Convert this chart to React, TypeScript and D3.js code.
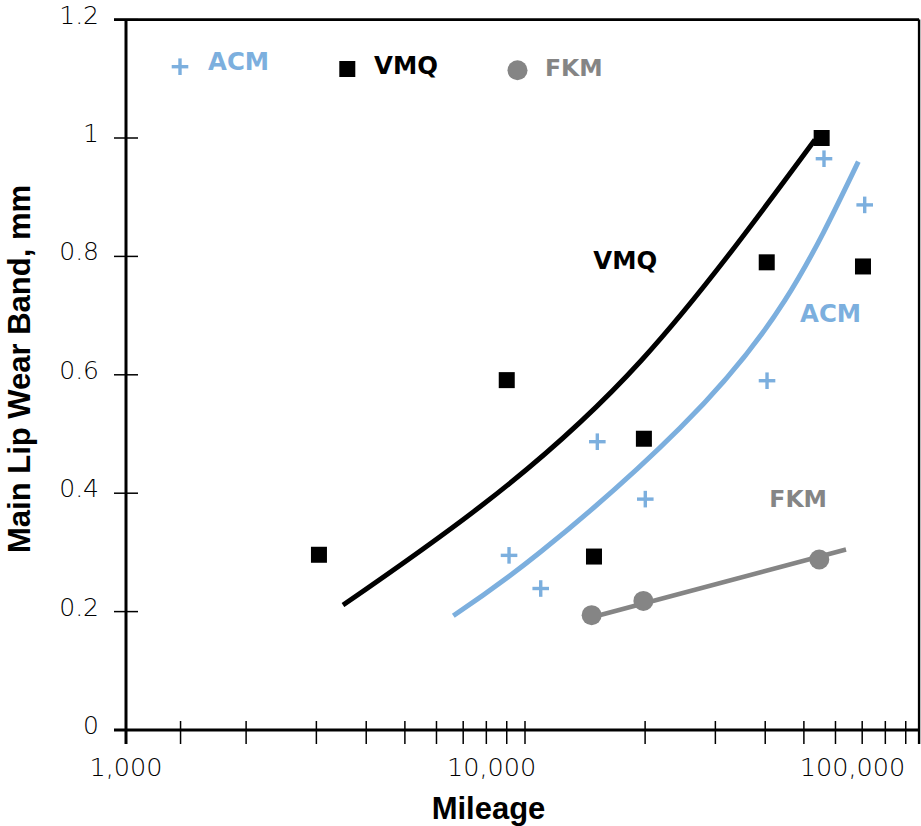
import React from "react";
import * as d3 from "d3";

// ---- data ----
const acmMileage = [9120, 10950, 15180, 20020, 40420, 56150, 71020];
const acmWear = [0.295, 0.239, 0.487, 0.39, 0.59, 0.965, 0.887];

const vmqMileage = [3045, 9000, 14890, 19860, 40350, 55400, 70320];
const vmqWear = [0.296, 0.591, 0.293, 0.492, 0.79, 1.0, 0.783];

const fkmMileage = [14690, 19800, 54640];
const fkmWear = [0.194, 0.218, 0.288];

// fitted trend curves
const vmqFitMileage = [3499, 7714, 19610, 53300];
const vmqFitWear = [0.211, 0.377, 0.625, 0.997];

const acmFitMileage = [6612, 10950, 24460, 44830, 68450];
const acmFitWear = [0.193, 0.301, 0.51, 0.726, 0.96];

const fkmFitMileage = [14630, 63760];
const fkmFitWear = [0.19, 0.305];

// axes
const xMin = 1000;
const xMax = 97200;
const xTicks = [
  1000, 1370, 2000, 3000, 4000, 5000, 6000, 7000, 8000, 9000, 10000,
  20000, 30000, 40000, 50000, 60000, 70000, 80000, 90000, 97200,
];
const xLabelText = ["1,000", "10,000", "100,000"];
const xLabelAt = [1000, 8250, 66200];

const yTicks = [0, 0.2, 0.4, 0.6, 0.8, 1.0, 1.2];
const yTickLabels = ["0", "0.2", "0.4", "0.6", "0.8", "1", "1.2"];

const seriesNames = ["ACM", "VMQ", "FKM"];
// in-plot annotation anchor (data units: mileage, wear)
const annoMileage = [48900, 14830, 40960];
const annoWear = [0.689, 0.778, 0.3775];

const BLUE = "#7cafde";
const GRAY = "#858585";
const BLACK = "#000000";

export default function App() {
  const W = 921;
  const H = 826;
  const x = d3.scaleLog().domain([xMin, 100000]).range([126, 924]);
  const y = d3.scaleLinear().domain([0, 1.2]).range([730, 19.6]);

  const x0 = x(xMin);
  const xR = x(xMax);
  const y0 = y(0);
  const yT = y(1.2);
  const tickOut = 12;
  const tickBelow = 14;

  const line = d3
    .line<[number, number]>()
    .x((d) => x(d[0]))
    .y((d) => y(d[1]))
    .curve(d3.curveNatural);
  const straight = d3
    .line<[number, number]>()
    .x((d) => x(d[0]))
    .y((d) => y(d[1]));

  const vmqFit = line(vmqFitMileage.map((m, i) => [m, vmqFitWear[i]] as [number, number]));
  const acmFit = line(acmFitMileage.map((m, i) => [m, acmFitWear[i]] as [number, number]));
  const fkmFit = straight(fkmFitMileage.map((m, i) => [m, fkmFitWear[i]] as [number, number]));

  const labelFont = "'DejaVu Sans', Verdana, sans-serif";
  const tickFont = "'DejaVu Sans', sans-serif";
  const titleFont = "'Liberation Sans', Arial, sans-serif";

  const plus = (cx: number, cy: number, key: string, s = 8.3) => (
    <g key={key} stroke={BLUE} strokeWidth={3.4}>
      <line x1={cx - s} x2={cx + s} y1={cy} y2={cy} />
      <line x1={cx} x2={cx} y1={cy - s} y2={cy + s} />
    </g>
  );

  const annoColors = [BLUE, BLACK, GRAY];

  return (
    <svg
      width={W}
      height={H}
      style={{ position: "absolute", left: 0, top: 0, background: "#fff" }}
    >
      <rect x={0} y={0} width={W} height={H} fill="#fff" />

      {/* fitted curves */}
      <path d={vmqFit || ""} fill="none" stroke={BLACK} strokeWidth={5} />
      <path d={acmFit || ""} fill="none" stroke={BLUE} strokeWidth={5} />
      <path d={fkmFit || ""} fill="none" stroke={GRAY} strokeWidth={4.6} />

      {/* data points */}
      {fkmMileage.map((m, i) => (
        <circle key={"f" + i} cx={x(m)} cy={y(fkmWear[i])} r={10} fill={GRAY} />
      ))}
      {vmqMileage.map((m, i) => (
        <rect
          key={"v" + i}
          x={x(m) - 8}
          y={y(vmqWear[i]) - 8}
          width={16}
          height={16}
          fill={BLACK}
        />
      ))}
      {acmMileage.map((m, i) => plus(x(m), y(acmWear[i]), "a" + i))}

      {/* frame */}
      <line x1={x0 - tickOut} x2={xR} y1={yT} y2={yT} stroke="#000" strokeWidth={2.6} />
      <line x1={xR} x2={xR} y1={yT} y2={y0 + tickBelow} stroke="#000" strokeWidth={2.4} />

      {/* axes */}
      <line x1={x0} x2={x0} y1={yT} y2={y0 + tickBelow} stroke="#000" strokeWidth={3} />
      <line x1={x0 - tickOut} x2={xR} y1={y0} y2={y0} stroke="#000" strokeWidth={3} />

      {/* x ticks */}
      {xTicks.map((t) => (
        <line
          key={"xt" + t}
          x1={x(t)}
          x2={x(t)}
          y1={y0 - 9}
          y2={y0 + tickBelow}
          stroke="#000"
          strokeWidth={1.5}
        />
      ))}
      {xLabelText.map((s, i) => (
        <text
          key={"xl" + i}
          x={x(xLabelAt[i])}
          y={775.5}
          textAnchor="middle"
          fontFamily={tickFont}
          fontWeight={200}
          fontSize={25.5}
          fill="#000"
        >
          {s}
        </text>
      ))}

      {/* y ticks */}
      {yTicks.map((t) => (
        <line
          key={"yt" + t}
          x1={x0 - tickOut}
          x2={x0 + tickOut}
          y1={y(t)}
          y2={y(t)}
          stroke="#000"
          strokeWidth={1.5}
        />
      ))}
      {yTicks.map((t, i) => (
        <text
          key={"yl" + t}
          x={99}
          y={y(t) + 4}
          textAnchor="end"
          fontFamily={tickFont}
          fontWeight={200}
          fontSize={25}
          fill="#000"
        >
          {yTickLabels[i]}
        </text>
      ))}

      {/* axis titles */}
      <text
        x={488.5}
        y={819}
        textAnchor="middle"
        fontFamily={titleFont}
        fontWeight="bold"
        fontSize={31}
        fill="#000"
      >
        Mileage
      </text>
      <text
        transform="translate(30,369) rotate(-90)"
        textAnchor="middle"
        fontFamily={titleFont}
        fontWeight="bold"
        fontSize={31}
        fill="#000"
      >
        Main Lip Wear Band, mm
      </text>

      {/* legend */}
      {plus(180, 66.7, "legplus")}
      <text x={208} y={69.5} fontFamily={labelFont} fontWeight="bold" fontSize={24.4} fill={BLUE}>
        {seriesNames[0]}
      </text>
      <rect x={339.3} y={61} width={16} height={16} fill={BLACK} />
      <text x={374} y={74} fontFamily={labelFont} fontWeight="bold" fontSize={24.4} fill={BLACK}>
        {seriesNames[1]}
      </text>
      <circle cx={517.5} cy={70.3} r={10} fill={GRAY} />
      <text x={545} y={75.5} fontFamily={labelFont} fontWeight="bold" fontSize={23.5} fill={GRAY}>
        {seriesNames[2]}
      </text>

      {/* in-plot annotations */}
      {seriesNames.map((s, i) => (
        <text
          key={"an" + s}
          x={x(annoMileage[i])}
          y={y(annoWear[i])}
          fontFamily={labelFont}
          fontWeight="bold"
          fontSize={i === 2 ? 23.5 : 24.4}
          fill={annoColors[i]}
        >
          {s}
        </text>
      ))}
    </svg>
  );
}
